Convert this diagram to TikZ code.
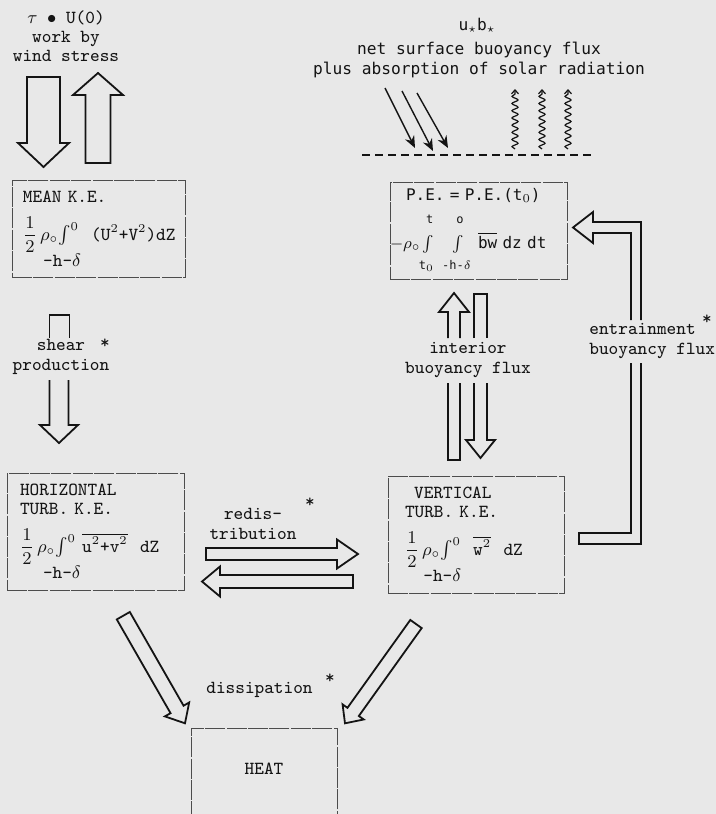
\documentclass[tikz,border=0pt]{standalone}
\usepackage{amsmath}
\usepackage{fontspec}
\newfontfamily\gothic{DejaVu Sans Mono}
\usetikzlibrary{calc,arrows.meta,decorations.pathmorphing}
\definecolor{ink}{gray}{0.08}
\definecolor{paper}{gray}{0.91}
\definecolor{rule}{gray}{0.30}

\tikzset{
  box/.style={draw=rule, line width=0.5pt, dash pattern=on 10pt off 0.7pt, text=ink,
    align=left, inner ysep=0pt, font=\fontsize{9.2}{9.6}\selectfont\ttfamily},
  lbl/.style={text=ink, align=center, inner sep=0pt, font=\fontsize{9.2}{9.6}\selectfont\ttfamily},
  gtx/.style={text=ink, align=center, inner sep=0pt, font=\fontsize{8.1}{10}\selectfont\gothic},
  fat/.style={draw=ink, line width=0.9pt},
  ray/.style={ink, line width=0.7pt, -{Stealth[length=6pt,width=5pt]}},
  wave/.style={ink, line width=0.6pt, decorate,
    decoration={snake, amplitude=1.5pt, segment length=3.6pt, post length=2.5pt},
    -{Straight Barb[length=2pt,width=3.5pt]}},
}

% hollow block arrow: from, to, shaft half width, head half width, head length
\newcommand{\fatarrow}[5]{%
  \path (#2) coordinate (fa-tip) ($(#2)!#5!(#1)$) coordinate (fa-base);
  \draw[fat] ($(#1)!#3!90:(#2)$) -- ($(fa-base)!#3!90:(fa-tip)$)
    -- ($(fa-base)!#4!90:(fa-tip)$) -- (fa-tip) -- ($(fa-base)!#4!-90:(fa-tip)$)
    -- ($(fa-base)!#3!-90:(fa-tip)$) -- ($(#1)!#3!-90:(#2)$) -- cycle;}
% limits of the time integral, set a little off the sign
\newcommand{\uplim}[1]{\text{\raisebox{4.5pt}{#1}}}
\newcommand{\lolim}[1]{\text{\raisebox{-3pt}{#1}}}

\begin{document}
\begin{tikzpicture}[x=0.5pt,y=-0.5pt]
  \useasboundingbox (0,0) rectangle (716,814);
  \clip (0,0) rectangle (716,814);
  \fill[paper] (0,0) rectangle (716,814);

  % energy boxes
  \node[box, minimum width=86.5pt, minimum height=48.5pt, text width=75.5pt, inner xsep=5.5pt]
    (mean) at (98.5,229)
    {MEAN K.E.\\[6pt]
     $\dfrac{1}{2}$\,$\rho_\circ\!\int^{0}$~~(U$^2$+V$^2$)dZ\\
     \hspace*{1.1em}-h-$\delta$};
  \node[box, minimum width=88.5pt, minimum height=58.5pt, text width=75.5pt, inner xsep=6.5pt]
    (horiz) at (95.5,531.5)
    {HORIZONTAL\\
     TURB. K.E.\\[6pt]
     $\dfrac{1}{2}$\,$\rho_\circ\!\int^{0}$~$\overline{\mbox{u$^2$+v$^2$}}$~~dZ\\
     \hspace*{1.25em}-h-$\delta$};
  \node[box, minimum width=88.5pt, minimum height=48.5pt, text width=88.5pt, inner xsep=0pt,
    font=\fontsize{8}{10}\selectfont\gothic]
    (pe) at (478.5,231)
    {\hspace*{8pt}P.E. = P.E.(t$_0$)\\[4pt]
     $-\rho_\circ\!\int\limits_{\lolim{t$_0$}}^{\uplim{t}}\ \int\limits_{\lolim{-h-$\delta$}}^{\uplim{o}}$
     $\overline{\mbox{bw}}$ dz dt};
  \node[box, minimum width=88pt, minimum height=58.5pt, text width=71pt, inner xsep=8.5pt]
    (vert) at (476,534.5)
    {\hspace*{0.5em}VERTICAL\\
     TURB. K.E.\\[6pt]
     $\dfrac{1}{2}$\,$\rho_\circ\!\int^{0}$~~$\overline{\mbox{w$^2$}}$~~dZ\\
     \hspace*{1em}-h-$\delta$};
  \node[box, anchor=north, minimum width=73pt, align=center, text height=23pt, text depth=30pt]
    (heat) at (264,728) {HEAT};

  % surface forcing
  \node[lbl] (wind) at (66,36) {$\tau$ $\bullet$ U(0)\\work by\\wind stress};
  \node[gtx] (ustar) at (477,25) {u$_\star$b$_\star$};
  \node[gtx] (surface) at (479,60) {net surface buoyancy flux\\plus absorption of solar radiation};
  \draw[ink, line width=0.8pt, dash pattern=on 4pt off 2.5pt] (362,155) coordinate (sea-l)
    -- (592,155) coordinate (sea-r);
  \draw[ray] (385,88) -- (415,148);
  \draw[ray] (402,91) -- (433,151);
  \draw[ray] (417,93) -- (448,148);
  \foreach \x in {515,542,568}
    \draw[wave] (\x,149) -- (\x,89);

  % flux labels
  \node[lbl] (shear) at (61,357) {shear\\production};
  \node[lbl] (shearstar) at (105,344) {*};
  \node[lbl] (redis) at (253,524) {redis-\\tribution};
  \node[lbl] (redisstar) at (310,503) {*};
  \node[lbl] (interior) at (468,360) {interior\\buoyancy flux};
  \node[lbl, align=left, anchor=west] (entrain) at (589,341) {entrainment\\buoyancy flux};
  \node[lbl] (entrainstar) at (707,320) {*};
  \node[lbl] (dissip) at (259.5,690) {dissipation};
  \node[lbl] (dissipstar) at (330,679) {*};

  % wind work
  \coordinate (wd-a) at (43.5,77);  \coordinate (wd-b) at (43.5,167);
  \coordinate (wu-a) at (98,163);   \coordinate (wu-b) at (98,73);
  \fatarrow{wd-a}{wd-b}{8.25pt}{12.75pt}{12pt}
  \fatarrow{wu-a}{wu-b}{6.25pt}{12.5pt}{11pt}

  % shear production
  \draw[fat] (49.5,338) |- (69.5,315) -- (69.5,338);
  \draw[fat] (49.5,380) -- (49.5,425) -- (40,425) -- (59,443) -- (78,425) -- (68.5,425) -- (68.5,380);

  % redistribution
  \coordinate (rr-a) at (206,554);   \coordinate (rr-b) at (358,554);
  \coordinate (rl-a) at (353,581.5); \coordinate (rl-b) at (202,581.5);
  \fatarrow{rr-a}{rr-b}{3pt}{7.25pt}{10.5pt}
  \fatarrow{rl-a}{rl-b}{3.25pt}{7.5pt}{9pt}

  % interior buoyancy flux
  \draw[fat] (448,338) -- (448,312) -- (439,312) -- (454,293) -- (469,312) -- (460,312) -- (460,338);
  \draw[fat] (448,383) |- (460,460) -- (460,383);
  \draw[fat] (474,338) |- (487,294) -- (487,338);
  \draw[fat] (474,383) -- (474,440) -- (466,440) -- (480.5,458) -- (495,440) -- (487,440) -- (487,383);

  % entrainment buoyancy flux
  \draw[fat] (631,320) |- (593,233) -- (593,243) -- (573,227.5) -- (593,212) -- (593,222) -| (641,320);
  \draw[fat] (631,363) |- (579,533) |- (641,544) -- (641,363);

  % dissipation
  \coordinate (dl-a) at (123.3,615.7); \coordinate (dl-b) at (185,723.3);
  \coordinate (dr-a) at (416,624);     \coordinate (dr-b) at (345,723.3);
  \fatarrow{dl-a}{dl-b}{3.75pt}{7pt}{8pt}
  \fatarrow{dr-a}{dr-b}{3.5pt}{6.5pt}{7pt}
\end{tikzpicture}
\end{document}
